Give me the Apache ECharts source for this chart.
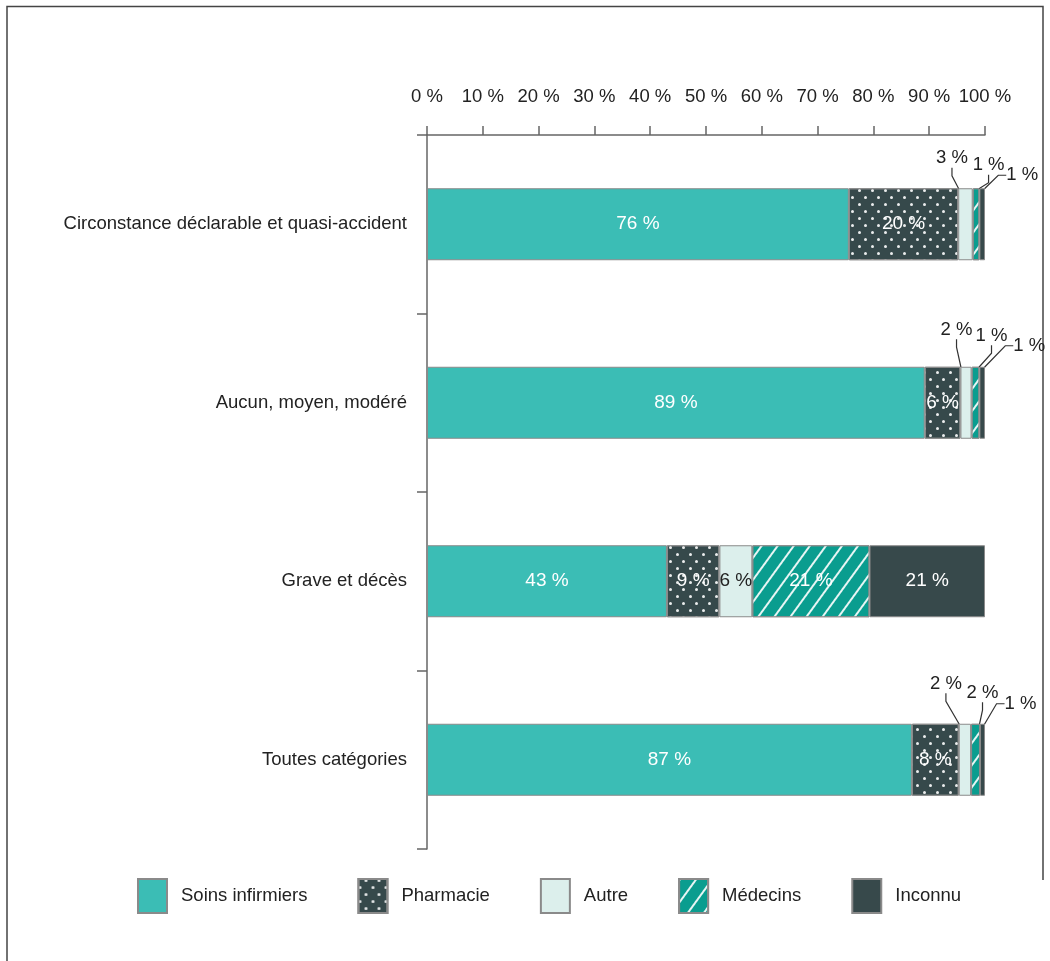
<!DOCTYPE html>
<html><head><meta charset="utf-8">
<script src="https://cdn.jsdelivr.net/npm/echarts@6/dist/echarts.min.js"></script>
<style>html,body{margin:0;padding:0;background:#fff}#c{width:1050px;height:961px}</style>
</head><body><div id="c"></div>
<script>
// ---------- data ----------
const categories = [
  'Circonstance déclarable et quasi-accident',
  'Aucun, moyen, modéré',
  'Grave et décès',
  'Toutes catégories'
];
const seriesNames = ['Soins infirmiers', 'Pharmacie', 'Autre', 'Médecins', 'Inconnu'];
const soins     = [75.6, 89.2, 43.0, 86.9];
const pharmacie = [19.6,  6.4,  9.4,  8.4];
const autre     = [ 2.6,  2.0,  5.9,  2.2];
const medecins  = [ 1.2,  1.4, 21.0,  1.6];
const inconnu   = [ 1.0,  1.0, 20.7,  0.9];
const xTickMin = 0, xTickMax = 100, xTickStep = 10;

// ---------- styles ----------
const FONT = "'Liberation Sans', Arial, sans-serif";
const FS = 18.5;
const colors = ['#3bbdb5', '#36494b', '#dcefec', '#0a9d8f', '#37494b'];
const labelColors = ['#ffffff', '#ffffff', '#222222', '#ffffff', '#ffffff'];
const decals = [
  null,
  { symbol: 'circle', symbolSize: 1, color: 'rgba(255,255,255,0.9)',
    dashArrayX: [[2.5, 9.5], [0, 6, 2.5, 3.5]], dashArrayY: [2.5, 3.5], rotation: 0 },
  null,
  { symbol: 'rect', symbolSize: 1, color: 'rgba(255,255,255,0.9)',
    dashArrayX: [1, 0], dashArrayY: [1.2, 10.5], rotation: -Math.PI * 0.3 },
  null
];
// offsets of outside labels from the top-centre of their segment: [dx, dy] per category
const outsideOffsets = {
  2: { 0: [-13.5, -30], 1: [-9.5, -37], 3: [-19, -40] },
  3: { 0: [12.5, -23], 1: [16, -31], 3: [7, -31] },
  4: { 0: [40, -13], 1: [47, -21], 3: [38, -20] }
};
const OUTSIDE_LIMIT = 4;

const values = [soins, pharmacie, autre, medecins, inconnu];

const series = values.map((arr, si) => ({
  name: seriesNames[si],
  type: 'bar',
  stack: 'total',
  barWidth: 72,
  itemStyle: Object.assign({ color: colors[si], borderColor: '#8a8a8a', borderWidth: 1 },
    decals[si] ? { decal: decals[si] } : {}),
  emphasis: { disabled: true },
  label: {
    show: true, position: 'inside', fontFamily: FONT, fontSize: 19,
    color: labelColors[si],
    formatter: p => Math.round(p.value) + ' %'
  },
  labelLine: { show: false, length2: 8, lineStyle: { color: '#333', width: 1.2 } },
  labelLayout: params => {
    const off = outsideOffsets[si] && outsideOffsets[si][params.dataIndex];
    if (!off || arr[params.dataIndex] >= OUTSIDE_LIMIT) return {};
    const r = params.rect;
    return { x: r.x + r.width / 2 + off[0], y: r.y + off[1], align: 'center', verticalAlign: 'middle' };
  },
  data: arr.map(v => {
    if (si >= 2 && v < OUTSIDE_LIMIT) {
      return { value: v, label: { color: '#222', fontSize: FS }, labelLine: { show: true } };
    }
    return v;
  })
}));

const chart = echarts.init(document.getElementById('c'), null, { renderer: 'canvas' });
chart.setOption({
  animation: false,
  textStyle: { fontFamily: FONT },
  grid: { left: 427, right: 65, top: 135, bottom: 112, containLabel: false, outerBoundsMode: 'none' },
  xAxis: {
    type: 'value', position: 'top', min: xTickMin, max: xTickMax, interval: xTickStep,
    axisLine: { show: true, lineStyle: { color: '#666', width: 1.5 } },
    axisTick: { show: true, length: 9, inside: false, lineStyle: { color: '#666', width: 1.5 } },
    axisLabel: { formatter: '{value} %', margin: 29, fontSize: FS, color: '#222', fontFamily: FONT,
      showMaxLabel: true, showMinLabel: true, hideOverlap: false },
    splitLine: { show: false }
  },
  yAxis: {
    type: 'category', data: categories, inverse: true,
    axisLine: { show: true, lineStyle: { color: '#666', width: 1.5 } },
    axisTick: { show: true, length: 10, alignWithLabel: false, lineStyle: { color: '#666', width: 1.5 } },
    axisLabel: { margin: 20, fontSize: FS, color: '#222', fontFamily: FONT },
    splitLine: { show: false }
  },
  legend: {
    left: 137, top: 878, padding: 0, itemWidth: 29, itemHeight: 34, itemGap: 50,
    icon: 'rect',
    textStyle: { fontSize: FS, color: '#222', fontFamily: FONT, padding: [0, 0, 0, 9] },
    selectedMode: false,
    data: seriesNames
  },
  graphic: [{
    type: 'polyline', silent: true,
    shape: { points: [[7, 961], [7, 6.5], [1043, 6.5], [1043, 880]] },
    style: { stroke: '#444', lineWidth: 1.5, fill: null }
  }],
  series: series
});
</script>
</body></html>
